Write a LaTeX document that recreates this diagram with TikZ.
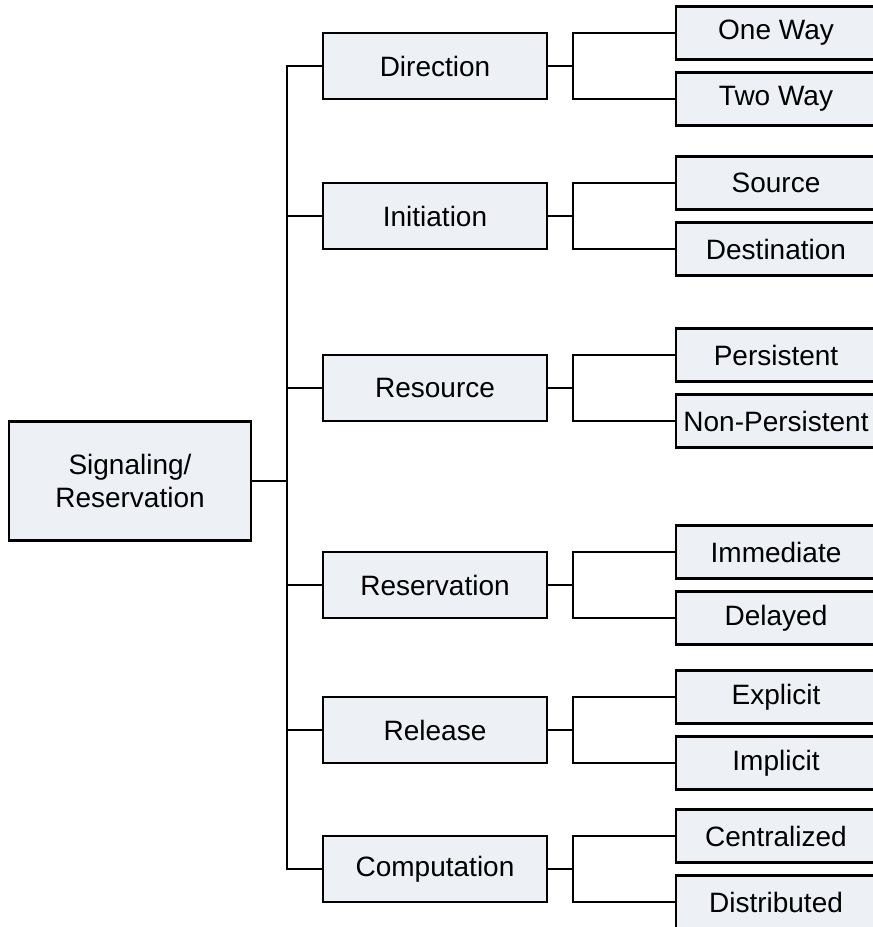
\documentclass[tikz,border=0pt]{standalone}
\usepackage{fontspec}
\setmainfont{Liberation Sans}
\definecolor{boxfill}{HTML}{EDF0F5}
\tikzset{
  box/.style={draw=black, fill=boxfill, line width=2.8pt, inner sep=0pt, align=center,
    font=\fontsize{28}{33}\selectfont},
  rootbox/.style={box, minimum width=242pt, minimum height=119pt},
  midbox/.style={box, minimum width=224pt, minimum height=66pt},
  leafbox/.style={box, minimum width=200pt, minimum height=53pt},
  conn/.style={line width=2.8pt, line join=miter}
}
\begin{document}
\begin{tikzpicture}[x=1pt,y=-1pt]
\useasboundingbox (0,0) rectangle (873,927);
\node[rootbox] (root) at (130,481) {Signaling/\\Reservation};
\coordinate (tx) at (287,0);
\coordinate (bx) at (573,0);
% middle boxes
\node[midbox] (dir) at (435,66) {Direction};
\node[midbox] (ini) at (435,216) {Initiation};
\node[midbox] (res) at (435,388) {Resource};
\node[midbox] (rsv) at (435,585) {Reservation};
\node[midbox] (rel) at (435,730) {Release};
\node[midbox] (com) at (435,869) {Computation};
% leaves
\node[leafbox] (ow) at (776,33) {One Way};
\node[leafbox] (tw) at (776,99) {Two Way};
\node[leafbox] (src) at (776,183) {Source};
\node[leafbox] (dst) at (776,249) {Destination};
\node[leafbox] (per) at (776,355) {Persistent};
\node[leafbox] (npe) at (776,421) {Non-Persistent};
\node[leafbox] (imm) at (776,552) {Immediate};
\node[leafbox] (del) at (776,618) {Delayed};
\node[leafbox] (exp) at (776,697) {Explicit};
\node[leafbox] (imp) at (776,763) {Implicit};
\node[leafbox] (cen) at (776,836) {Centralized};
\node[leafbox] (dis) at (776,902) {Distributed};
% trunk
\draw[conn] (root.east) -- (root.east -| tx);
\draw[conn] (dir.west) -- (dir.west -| tx) -- (com.west -| tx) -- (com.west);
\foreach \m in {ini,res,rsv,rel}
  \draw[conn] (\m.west -| tx) -- (\m.west);
% branches
\foreach \m/\a/\b in {dir/ow/tw, ini/src/dst, res/per/npe, rsv/imm/del, rel/exp/imp, com/cen/dis}{
  \draw[conn] (\m.east) -- (\m.east -| bx);
  \draw[conn] (\a.west) -- (\a.west -| bx) -- (\b.west -| bx) -- (\b.west);
}
\end{tikzpicture}
\end{document}
